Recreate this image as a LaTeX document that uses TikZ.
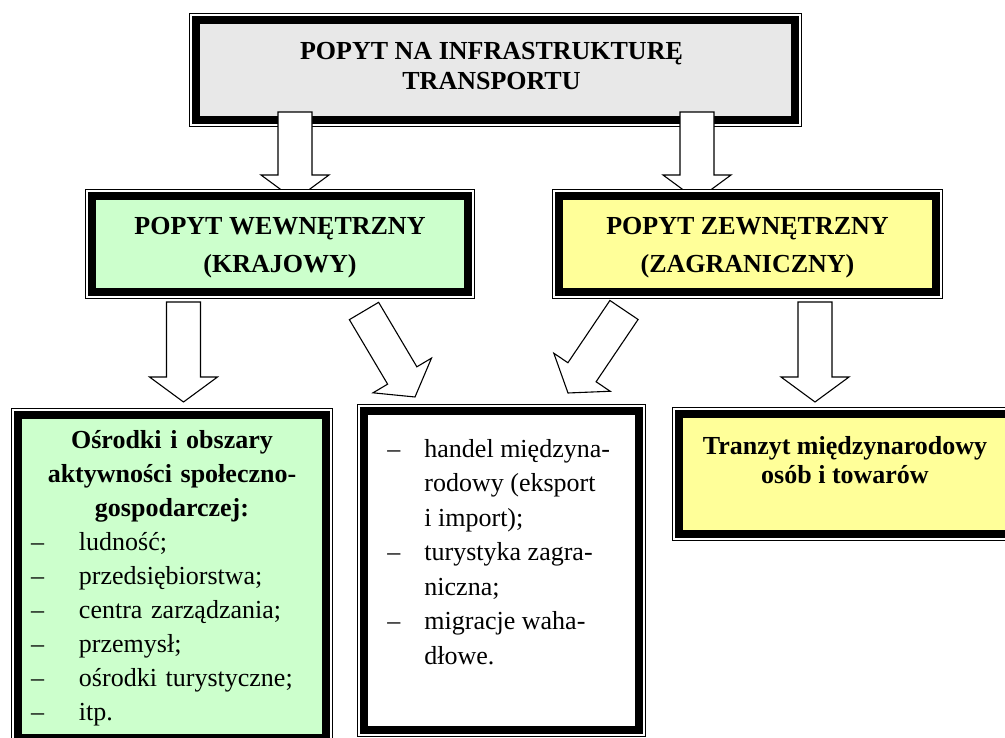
\documentclass[tikz,border=0pt]{standalone}
\usepackage{fontspec}
\setmainfont{Liberation Serif}
\usetikzlibrary{calc,positioning}
\definecolor{topgray}{HTML}{E8E8E8}
\definecolor{lightgreen}{HTML}{CCFFCC}
\definecolor{lightyellow}{HTML}{FFFF99}
\newcommand\itm[2][37pt]{\makebox[#1][l]{–}#2}
\newcommand\cnt[1]{\hspace*{37pt}#1}
\tikzset{
  dbox/.style={draw, line width=8pt, outer sep=0pt, inner sep=0pt,
    preaction={draw, line width=14.5pt, black},
    preaction={draw, line width=12pt, white}},
  fat/.style={draw, fill=white, line width=1.1pt, line join=miter, to path={
    let \p1=(\tikztostart), \p2=(\tikztotarget),
        \n1={atan2(\y2-\y1,\x2-\x1)}, \n2={veclen(\x2-\x1,\y2-\y1)-25} in
    ($(\p1)+(\n1+90:17pt)$) -- ++(\n1:\n2) -- ++(\n1+90:17pt) -- (\p2)
    -- ($(\p1)+(\n1:\n2)+(\n1-90:34pt)$) -- ++(\n1+90:17pt)
    -- ($(\p1)+(\n1-90:17pt)$) -- cycle}},
  txt/.style={inner sep=0pt, font=\fontsize{26}{34}\selectfont},
  head/.style={inner sep=0pt, align=center, font=\fontsize{26}{38}\selectfont\bfseries}
}
\begin{document}
\begin{tikzpicture}[x=1pt, y=1pt]
\useasboundingbox (0,0) rectangle (1005,738);
\clip (0,0) rectangle (1005,738);

% top level
\node[dbox, fill=topgray, minimum width=598.5pt, minimum height=99.5pt] (top) at (495.5,668) {};

\coordinate (t1s) at (295,626);
\coordinate (t1e) at (295,538);
\coordinate (t2s) at (697,626);
\coordinate (t2e) at (697,538);
\draw[fat] (t1s) to (t1e);
\draw[fat] (t2s) to (t2e);

% second level
\node[dbox, fill=lightgreen, minimum width=375.5pt, minimum height=95.5pt] (wew) at (280,494) {};
\node[dbox, fill=lightyellow, minimum width=376.5pt, minimum height=95.5pt] (zew) at (747.5,494) {};

\coordinate (w1s) at (183.5,436);
\coordinate (w1e) at (183.5,336);
\coordinate (w2s) at (364,427);
\coordinate (w2e) at (415,341);
\coordinate (z1s) at (624,428);
\coordinate (z1e) at (568,345);
\coordinate (z2s) at (815,436);
\coordinate (z2e) at (815,336);
\draw[fat] (w1s) to (w1e);
\draw[fat] (w2s) to (w2e);
\draw[fat] (z1s) to (z1e);
\draw[fat] (z2s) to (z2e);

% third level
\node[dbox, fill=lightgreen, minimum width=307.5pt, minimum height=322.5pt] (osr) at (172,161.5) {};
\node[dbox, fill=white, minimum width=274.5pt, minimum height=318.5pt] (mid) at (501.5,167.5) {};
\node[dbox, fill=lightyellow, minimum width=331.5pt, minimum height=119.5pt] (tra) at (845,264) {};

% texts
\node[head, font=\fontsize{26}{30}\selectfont\bfseries, below=21.75pt of top.north, xshift=-4pt] (toptxt)
  {POPYT NA INFRASTRUKTURĘ\\TRANSPORTU};
\node[head, below=20.75pt of wew.north] (wewtxt) {POPYT WEWNĘTRZNY\\(KRAJOWY)};
\node[head, below=20.75pt of zew.north] (zewtxt) {POPYT ZEWNĘTRZNY\\(ZAGRANICZNY)};
\node[txt, text width=282pt, align=left, below=15pt of osr.north] (osrtxt)
  {{\centering\bfseries Ośrodki i obszary\\aktywności społeczno-\\gospodarczej:\par}
   \itm[48pt]{ludność;}\\
   \itm[48pt]{przedsiębiorstwa;}\\
   \itm[48pt]{centra zarządzania;}\\
   \itm[48pt]{przemysł;}\\
   \itm[48pt]{ośrodki turystyczne;}\\
   \itm[48pt]{itp.}};
\node[txt, font=\fontsize{26}{34.5}\selectfont, align=left, below right=28pt and 23pt of mid.north west] (midtxt)
  {\itm{handel międzyna-}\\
   \cnt{rodowy (eksport}\\
   \cnt{i import);}\\
   \itm{turystyka zagra-}\\
   \cnt{niczna;}\\
   \itm{migracje waha-}\\
   \cnt{dłowe.}};
\node[head, font=\fontsize{26}{29}\selectfont\bfseries, below=21.75pt of tra.north] (tratxt)
  {Tranzyt międzynarodowy\\osób i towarów};
\end{tikzpicture}
\end{document}
